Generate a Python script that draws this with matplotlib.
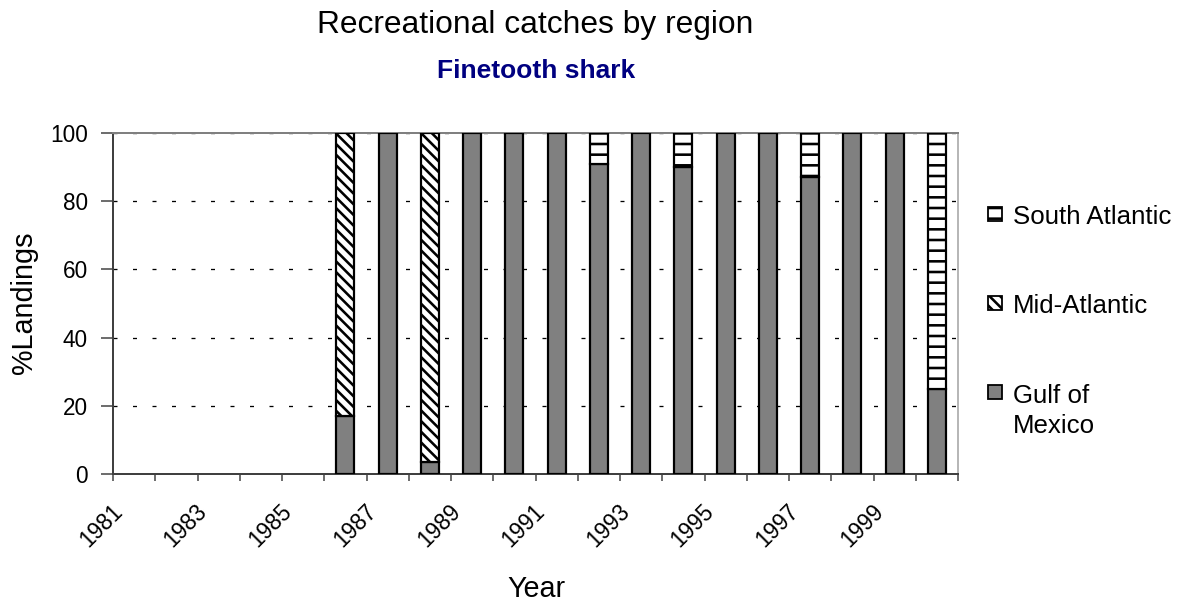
import numpy as np
import matplotlib.pyplot as plt
import matplotlib.transforms as mtransforms
from matplotlib.patches import Rectangle

# data (percent of landings by region)
years = list(range(1981, 2001))
gulf = [0, 0, 0, 0, 0, 17, 100, 3.5, 100, 100, 100, 91, 100, 90, 100, 100, 87, 100, 100, 25]
mid_atl = [0, 0, 0, 0, 0, 83, 0, 96.5, 0, 0, 0, 0, 0, 0, 0, 0, 0, 0, 0, 0]
south_atl = [0, 0, 0, 0, 0, 0, 0, 0, 0, 0, 0, 9, 0, 10, 0, 0, 13, 0, 0, 75]
series_names = ["Gulf of\nMexico", "Mid-Atlantic", "South Atlantic"]

DPI = 128
W, H = 1182, 605
PT = 72 / DPI  # pixels -> points

plt.rcParams['font.family'] = ['Liberation Sans', 'DejaVu Sans']
plt.rcParams['hatch.linewidth'] = 2.6 * PT
plt.rcParams['lines.scale_dashes'] = False

fig = plt.figure(figsize=(W / DPI, H / DPI), dpi=DPI)
ax = fig.add_axes([113 / W, (H - 474) / H, (958 - 113) / W, (474 - 133) / H])

x = np.arange(len(years))
width = 0.43
styles = [dict(facecolor='#808080', hatch=None),
          dict(facecolor='white', hatch='\\\\\\\\'),
          dict(facecolor='white', hatch='--')]

bottom = np.zeros(len(years))
for vals, st in zip([gulf, mid_atl, south_atl], styles):
    vals = np.array(vals, dtype=float)
    keep = vals > 0
    ax.bar(x[keep], vals[keep], width, bottom=bottom[keep], facecolor=st['facecolor'],
           hatch=st['hatch'], edgecolor='black', linewidth=2.2 * PT, zorder=3)
    bottom += vals

ax.set_xlim(-0.5, len(years) - 0.5)
ax.set_ylim(0, 100)

# y axis
ax.set_yticks(np.arange(0, 101, 20))
ax.tick_params(axis='y', direction='out', length=6.5, width=1.5 * PT, color='#404040',
               pad=13.7 * PT, labelsize=22.5 * PT)
ax.yaxis.grid(True, color='black', linewidth=1.3 * PT, linestyle=(0, (4 * PT, 15.5 * PT)), zorder=1)
ax.set_axisbelow(True)

# x axis: ticks at category boundaries, labels at odd years
ax.set_xticks(np.arange(len(years) + 1) - 0.5)
ax.set_xticklabels([])
ax.set_xticks(x[::2], minor=True)
ax.set_xticklabels([str(y) for y in years[::2]], minor=True, rotation=45,
                   ha='right', va='center', rotation_mode='anchor', fontsize=22.5 * PT)
ax.tick_params(axis='x', which='major', direction='out', length=7 * PT, width=1.5 * PT, color='#404040')
ax.tick_params(axis='x', which='minor', length=0, pad=34 * PT)
offset = mtransforms.ScaledTranslation(-15 / DPI, 0, fig.dpi_scale_trans)
for lab in ax.xaxis.get_minorticklabels():
    lab.set_transform(lab.get_transform() + offset)

for side in ['left', 'bottom']:
    ax.spines[side].set_color('#404040')
    ax.spines[side].set_linewidth(2 * PT)
ax.spines['top'].set_color('#808080')
ax.spines['top'].set_linewidth(2 * PT)
ax.spines['right'].set_color('#a0a0a0')
ax.spines['right'].set_linewidth(1.5 * PT)

# titles and axis labels
fig.text(535 / W, 1 - 33 / H, "Recreational catches by region", ha='center', va='baseline',
         fontsize=31.8 * PT)
fig.text(536 / W, 1 - 78 / H, "Finetooth shark", ha='center', va='baseline',
         fontsize=26.4 * PT, fontweight='bold', color='#000080')
fig.text(24 / W, 1 - 303 / H, "%Landings", rotation=90, ha='center', va='center',
         fontsize=28.8 * PT)
fig.text(536 / W, 1 - 597 / H, "Year", ha='center', va='baseline', fontsize=28.8 * PT)

# legend (drawn by hand so the wrapped label lines up like the original)
for i, (name, st) in enumerate(zip(series_names[::-1], styles[::-1])):
    base = 224 + 89 * i
    fig.add_artist(Rectangle((988 / W, 1 - (base - 3) / H), 14 / W, 14 / H,
                             transform=fig.transFigure, facecolor=st['facecolor'],
                             hatch=st['hatch'], edgecolor='black', linewidth=1.8 * PT))
    nlines = name.count('\n')
    fig.text(1013 / W, 1 - (base + 31 * nlines) / H, name, ha='left', va='baseline',
             fontsize=25.9 * PT, linespacing=1.33)

fig.savefig('out.png', dpi=DPI)
